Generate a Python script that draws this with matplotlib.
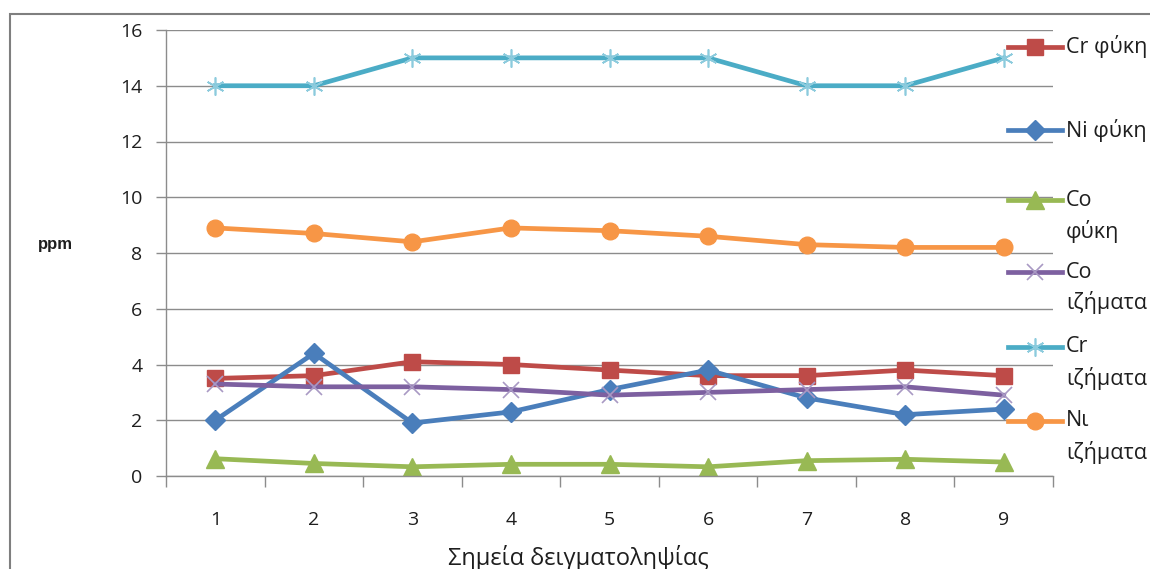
import numpy as np
import matplotlib
matplotlib.use("Agg")
import matplotlib.pyplot as plt
from matplotlib.lines import Line2D
from matplotlib.patches import Rectangle

plt.rcParams['font.family'] = ['Open Sans', 'DejaVu Sans']

# ── data ────────────────────────────────────────────────────────────────────
points = [1, 2, 3, 4, 5, 6, 7, 8, 9]

cr_fyki = [3.5, 3.6, 4.1, 4.0, 3.8, 3.6, 3.6, 3.8, 3.6]
ni_fyki = [2.0, 4.4, 1.9, 2.3, 3.1, 3.8, 2.8, 2.2, 2.4]
co_fyki = [0.62, 0.45, 0.33, 0.42, 0.42, 0.33, 0.55, 0.6, 0.5]
co_izim = [3.3, 3.2, 3.2, 3.1, 2.9, 3.0, 3.1, 3.2, 2.9]
cr_izim = [14, 14, 15, 15, 15, 15, 14, 14, 15]
ni_izim = [8.9, 8.7, 8.4, 8.9, 8.8, 8.6, 8.3, 8.2, 8.2]

labels = ["Cr φύκη", "Ni φύκη", "Co\nφύκη", "Co\nιζήματα", "Cr\nιζήματα", "Nι\nιζήματα"]
y_ticks = [0, 2, 4, 6, 8, 10, 12, 14, 16]

# ── styles ──────────────────────────────────────────────────────────────────
styles = [
    dict(color="#BE4B48", marker="s", ms=12, mfc="#BE4B48", mec="#BE4B48", mew=1),
    dict(color="#4A7EBB", marker="D", ms=10, mfc="#4A7EBB", mec="#4A7EBB", mew=1),
    dict(color="#98B954", marker="^", ms=13, mfc="#98B954", mec="#98B954", mew=1),
    dict(color="#7D60A0", marker="x", ms=12, mfc="none", mec="#A999C4", mew=1.2),
    dict(color="#4BACC6", marker=(6, 2, 0), ms=13, mfc="none", mec="#8CCBDD", mew=1.2),
    dict(color="#F79646", marker="o", ms=12, mfc="#F79646", mec="#F79646", mew=1),
]
series = [cr_fyki, ni_fyki, co_fyki, co_izim, cr_izim, ni_izim]

W, H = 1150, 569
fig = plt.figure(figsize=(W / 100, H / 100), dpi=100)
ax = fig.add_axes([166 / W, 1 - 476 / H, (1053 - 166) / W, (476 - 30) / H])

for vals, st in zip(series, styles):
    ax.plot(points, vals, lw=3.4, solid_joinstyle="round", **st)

grid_c = "#8C8C8C"
txt_c = "#1E1E1E"
ax.set_xlim(0.5, 9.5)
ax.set_ylim(0, 16)
ax.set_yticks(y_ticks)
ax.set_xticks(points)
ax.set_xticks(np.arange(0.5, 10, 1), minor=True)
ax.yaxis.grid(True, color=grid_c, lw=1)
ax.set_axisbelow(True)
for s in ["top", "right"]:
    ax.spines[s].set_visible(False)
for s in ["left", "bottom"]:
    ax.spines[s].set_color(grid_c)
    ax.spines[s].set_linewidth(1)
ax.tick_params(axis="y", length=7, width=1, color=grid_c, pad=10,
               labelsize=14, labelcolor=txt_c)
ax.tick_params(axis="x", which="major", length=0, pad=25,
               labelsize=14, labelcolor=txt_c)
ax.tick_params(axis="x", which="minor", length=8, width=1, color=grid_c)

# axis titles
fig.text(55 / W, 1 - 245 / H, "ppm", fontsize=12, fontweight="bold",
         family=["Liberation Sans", "DejaVu Sans"], ha="center", va="center",
         color=txt_c)
fig.text(578 / W, 1 - 558 / H, "Σημεία δειγματοληψίας", fontsize=17,
         ha="center", va="center", color=txt_c)

# legend drawn by hand so markers sit on the first text line
legend_y = [47, 130, 200, 272, 347, 421]
for lab, st, yy in zip(labels, styles, legend_y):
    yf = 1 - yy / H
    fig.add_artist(Line2D([1008 / W, 1062 / W], [yf, yf], lw=3.4,
                          color=st["color"], transform=fig.transFigure))
    fig.add_artist(Line2D([1035 / W], [yf], lw=0, marker=st["marker"],
                          ms=st["ms"], mfc=st["mfc"], mec=st["mec"],
                          mew=st["mew"], transform=fig.transFigure))
    for i, line in enumerate(lab.split("\n")):
        fig.text(1066 / W, 1 - (yy + 31 * i) / H, line, fontsize=15.5,
                 ha="left", va="center", color=txt_c)

# outer chart frame
fig.add_artist(Rectangle((10 / W, -0.1), 1.2, 1 - 14 / H + 0.1,
                         transform=fig.transFigure, fill=False,
                         ec="#7F7F7F", lw=1.5))

fig.savefig("out.png", dpi=100)
